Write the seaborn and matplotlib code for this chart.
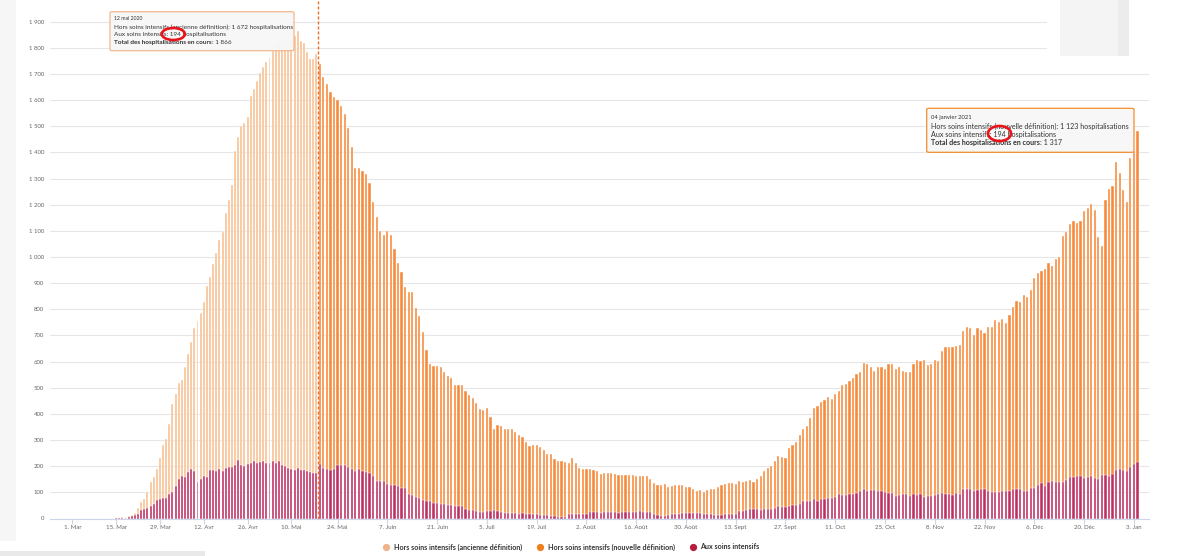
import numpy as np
import pandas as pd
import matplotlib
matplotlib.use("Agg")
import matplotlib.pyplot as plt
import seaborn as sns
from matplotlib.patches import Rectangle, FancyBboxPatch, Ellipse
from matplotlib.lines import Line2D

# ---------------- data ----------------
origine = "2020-03-01"

debut_ancienne = "2020-03-15"
total_ancienne = [
    2, 3, 4, 6, 9, 14, 22, 42, 62, 75, 102, 139, 159, 189, 231, 283, 303, 360, 437, 476,
    520, 530, 580, 629, 676, 729, 756, 787, 827, 888, 925, 972, 1014, 1067, 1096, 1167,
    1220, 1275, 1407, 1458, 1500, 1511, 1535, 1615, 1641, 1674, 1704, 1727, 1745, 1763,
    1787, 1814, 1822, 1823, 1822, 1825, 1829, 1844, 1866, 1825, 1817, 1784, 1759, 1759, 1778]
soins_int_ancienne = [
    1, 1, 2, 3, 5, 8, 14, 17, 31, 36, 41, 48, 54, 69, 75, 79, 79, 92, 103, 125,
    150, 161, 159, 178, 191, 182, 140, 152, 162, 158, 185, 185, 180, 191, 180, 195,
    197, 196, 203, 223, 206, 201, 209, 214, 220, 211, 215, 219, 214, 214,
    218, 211, 219, 206, 200, 194, 189, 185, 194, 186, 187, 183, 177, 173, 175]

debut_nouvelle = "2020-05-19"
total_nouvelle = [
    1737, 1688, 1663, 1630, 1612, 1602, 1577, 1546, 1494, 1419, 1341, 1341, 1328, 1316, 1284,
    1211, 1152, 1100, 1086, 1099, 1084, 1029, 979, 943, 886, 867, 867, 806, 775, 715,
    644, 592, 585, 584, 578, 560, 545, 536, 510, 510, 510, 488, 471, 461, 440,
    419, 416, 422, 389, 343, 356, 352, 341, 341, 341, 329, 320, 310, 291, 278,
    280, 280, 275, 261, 245, 245, 229, 220, 220, 215, 213, 233, 211, 194, 189,
    189, 188, 185, 183, 170, 174, 174, 175, 169, 168, 168, 165, 165, 165, 161,
    161, 161, 161, 150, 137, 128, 128, 131, 122, 125, 128, 128, 128, 122, 119,
    114, 104, 109, 100, 109, 111, 113, 122, 128, 133, 134, 134, 133, 143, 139,
    145, 146, 141, 150, 162, 183, 194, 202, 221, 240, 236, 230, 268, 282, 294,
    319, 343, 354, 384, 422, 430, 445, 453, 466, 457, 476, 489, 510, 514, 525,
    537, 551, 560, 593, 592, 578, 565, 578, 579, 570, 590, 589, 571, 578, 564,
    559, 560, 589, 606, 603, 606, 587, 590, 606, 601, 642, 654, 654, 654, 658,
    663, 717, 731, 729, 700, 727, 722, 711, 733, 733, 760, 753, 762, 746, 780,
    808, 832, 827, 855, 848, 873, 918, 940, 947, 953, 978, 966, 991, 1001, 1080,
    1096, 1128, 1137, 1131, 1137, 1177, 1186, 1201, 1179, 1075, 1042, 1220, 1262, 1272, 1362,
    1320, 1256, 1211, 1379, 1402, 1481]
soins_int_nouvelle = [
    208, 194, 190, 186, 190, 203, 203, 203, 196, 190, 183, 189, 180, 177, 175,
    161, 143, 143, 143, 131, 130, 130, 125, 118, 115, 94, 90, 82, 78, 71,
    68, 68, 61, 58, 55, 54, 50, 50, 48, 48, 49, 38, 34, 34, 29,
    26, 26, 27, 30, 32, 30, 24, 22, 22, 22, 21, 18, 21, 16, 16,
    18, 18, 13, 13, 13, 11, 11, 7, 7, 7, 18, 18, 18, 18, 18,
    18, 24, 24, 24, 20, 25, 25, 24, 24, 20, 25, 25, 25, 25, 26,
    30, 26, 25, 25, 17, 13, 11, 11, 13, 17, 18, 18, 20, 22, 22,
    20, 20, 20, 18, 18, 18, 13, 12, 12, 16, 18, 18, 18, 27, 30,
    32, 35, 35, 35, 32, 35, 35, 38, 40, 49, 45, 45, 49, 50, 52,
    54, 67, 68, 68, 73, 68, 76, 73, 78, 78, 82, 92, 90, 90, 95,
    92, 99, 105, 112, 105, 109, 109, 105, 105, 101, 99, 99, 87, 90, 92,
    94, 87, 94, 90, 92, 83, 85, 85, 90, 94, 96, 94, 94, 90, 99,
    94, 112, 112, 112, 106, 109, 114, 112, 106, 103, 103, 103, 105, 105, 106,
    112, 112, 112, 106, 106, 115, 118, 128, 134, 125, 139, 143, 138, 138, 141,
    147, 157, 157, 162, 162, 153, 157, 162, 153, 150, 168, 168, 164, 170, 185,
    188, 185, 183, 198, 208, 215]

tick_labels = ["1. Mar", "15. Mar", "29. Mar", "12. Avr", "26. Avr", "10. Mai", "24. Mai",
               "7. Juin", "21. Juin", "5. Juil", "19. Juil", "2. Août", "16. Août", "30. Août",
               "13. Sept", "27. Sept", "11. Oct", "25. Oct", "8. Nov", "22. Nov", "6. Déc",
               "20. Déc", "3. Jan"]
y_ticks = list(range(0, 2000, 100))
legend_labels = ["Hors soins intensifs (ancienne définition)",
                 "Hors soins intensifs (nouvelle définition)",
                 "Aux soins intensifs"]

# ---------------- style ----------------
C_OLD = "#f8bf92"
C_NEW = "#f5893a"
C_SI = "#bd3060"
LEG_COLORS = ["#f0b38a", "#f07f1b", "#b71c40"]

sns.set_theme(style="white")
plt.rcParams["font.family"] = ["Lato", "DejaVu Sans"]

W, H = 1200, 556
fig = plt.figure(figsize=(12, 5.56), dpi=100)
fig.patch.set_facecolor("white")

def fx(px):
    return px / W

def fy(py):
    return 1 - py / H

Y0, PX_PER_UNIT = 518.5, 0.26147
ax = fig.add_axes([fx(50), fy(Y0), (1149 - 50) / W, Y0 / H])

t0 = pd.Timestamp(origine)
jours_a = (pd.date_range(debut_ancienne, periods=len(total_ancienne)) - t0).days.values
jours_n = (pd.date_range(debut_nouvelle, periods=len(total_nouvelle)) - t0).days.values
df_a = pd.DataFrame({"jour": jours_a, "total": total_ancienne, "si": soins_int_ancienne})
df_n = pd.DataFrame({"jour": jours_n, "total": total_nouvelle, "si": soins_int_nouvelle})
df_si = pd.concat([df_a, df_n], ignore_index=True)

bar_kw = dict(native_scale=True, orient="x", saturation=1, width=0.62, errorbar=None,
              edgecolor="white", linewidth=0.3, ax=ax)
sns.barplot(data=df_a, x="jour", y="total", color=C_OLD, **bar_kw)
sns.barplot(data=df_n, x="jour", y="total", color=C_NEW, **bar_kw)
sns.barplot(data=df_si, x="jour", y="si", color=C_SI, **bar_kw)

# piecewise-linear day scale (the screenshot is a stitch of two zoom levels)
BREAK, SL, SR = 78.5, 3.13, 3.555

def fwd(d):
    d = np.asarray(d, dtype=float)
    return np.where(d < BREAK, SL * d, SL * BREAK + SR * (d - BREAK))

def inv(u):
    u = np.asarray(u, dtype=float)
    return np.where(u < SL * BREAK, u / SL, BREAK + (u - SL * BREAK) / SR)

ax.set_xscale("function", functions=(fwd, inv))
ax.set_xlim(float(inv(50 - 72.3)), float(inv(1149 - 72.3)))
ax.set_ylim(0, Y0 / PX_PER_UNIT)

tick_days = (pd.date_range(origine, periods=len(tick_labels), freq="14D") - t0).days.values
ax.set_xticks(tick_days)
ax.set_xticklabels(tick_labels)
ax.set_yticks(y_ticks)
ax.set_yticklabels([f"{v:,}".replace(",", " ") for v in y_ticks])
ax.minorticks_off()
ax.set_xlabel("")
ax.set_ylabel("")

ax.tick_params(axis="y", length=0, pad=4.3, labelsize=4.3, labelcolor="#666666")
ax.tick_params(axis="x", length=3.3, width=0.8, color="#ccd6eb", pad=1.2,
               labelsize=4.4, labelcolor="#666666", bottom=True)
for s in ["top", "right", "left"]:
    ax.spines[s].set_visible(False)
ax.spines["bottom"].set_color("#ccd6eb")
ax.spines["bottom"].set_linewidth(0.8)
ax.yaxis.grid(True, color="#e6e6e6", linewidth=0.8)
ax.xaxis.grid(False)
ax.set_axisbelow(True)

ax.axvline(BREAK, color="#e8702a", linestyle=(0, (2.2, 1.4)), linewidth=1.0, zorder=5)

# ---------------- screenshot frame bits ----------------
fig.patches.append(Rectangle((0, fy(541)), fx(16), 541 / H, transform=fig.transFigure,
                             facecolor="#f6f6f6", edgecolor="none"))
fig.patches.append(Rectangle((0, 0), fx(205), 5 / H, transform=fig.transFigure,
                             facecolor="#e9e9e9", edgecolor="none"))
fig.patches.append(Rectangle((fx(1047), fy(56)), fx(110), 56 / H, transform=fig.transFigure,
                             facecolor="white", edgecolor="none"))
fig.patches.append(Rectangle((fx(1060), fy(56)), fx(58), 56 / H, transform=fig.transFigure,
                             facecolor="#f4f4f4", edgecolor="none"))
fig.patches.append(Rectangle((fx(1118), fy(56)), fx(11), 56 / H, transform=fig.transFigure,
                             facecolor="#ececec", edgecolor="none"))

# ---------------- tooltips ----------------
def tooltip(x0, y0, x1, y1, edge, lines, total, tx, ys, fs_date, fs):
    box = FancyBboxPatch((fx(x0), fy(y1)), (x1 - x0) / W, (y1 - y0) / H,
                         boxstyle="round,pad=0,rounding_size=0.002",
                         transform=fig.transFigure, facecolor="#f7f7f7",
                         edgecolor=edge, linewidth=0.9, alpha=0.96, zorder=10)
    fig.patches.append(box)
    fig.text(fx(tx), fy(ys[0]), lines[0], fontsize=fs_date, color="#333333",
             va="center", ha="left", zorder=11)
    fig.text(fx(tx), fy(ys[1]), lines[1], fontsize=fs, color="#333333",
             va="center", ha="left", zorder=11)
    fig.text(fx(tx), fy(ys[2]), lines[2], fontsize=fs, color="#333333",
             va="center", ha="left", zorder=11)
    b = fig.text(fx(tx), fy(ys[3]), lines[3], fontsize=fs, color="#333333",
                 fontweight="bold", va="baseline", ha="left", zorder=11)
    fig.add_artist(matplotlib.text.Annotation(
        total, xy=(1, 0), xycoords=b, xytext=(fx(tx), fy(ys[3])),
        textcoords=fig.transFigure, va="baseline", ha="left", fontsize=fs,
        color="#333333", zorder=11))

    return b

def place_total(b, ann):
    pass

tt = []
tt.append(tooltip(110, 11.7, 294, 50.7, "#f2b58c",
                  ["12 mai 2020",
                   "Hors soins intensifs (ancienne définition): 1 672 hospitalisations",
                   "Aux soins intensifs: 194 hospitalisations",
                   "Total des hospitalisations en cours"], ": 1 866",
                  114, [19, 27, 34.5, 44.2], 3.7, 4.6))
tt.append(tooltip(926.7, 108.3, 1134, 152.3, "#f28a22",
                  ["04 janvier 2021",
                   "Hors soins intensifs (nouvelle définition): 1 123 hospitalisations",
                   "Aux soins intensifs: 194 hospitalisations",
                   "Total des hospitalisations en cours"], ": 1 317",
                  931, [117, 126, 134.5, 144.9], 4.2, 5.15))

# shift the ": total" text right after the bold part, on the same baseline
fig.canvas.draw()
renderer = fig.canvas.get_renderer()
for b in tt:
    bb = b.get_window_extent(renderer)
    for art in fig.artists:
        if isinstance(art, matplotlib.text.Annotation) and art.xycoords is b:
            x_fig = bb.x1 / fig.bbox.width
            art.xyann = (x_fig, b.get_position()[1])

for cx, cy, w, h in [(173.3, 34, 23, 12), (999.5, 133.5, 23, 15)]:
    fig.patches.append(Ellipse((fx(cx), fy(cy)), w / W, h / H, transform=fig.transFigure,
                               facecolor="none", edgecolor="#e8141c", linewidth=1.9, zorder=12))

# ---------------- legend ----------------
handles = [Line2D([], [], marker="o", linestyle="", color=c, markersize=4.2) for c in LEG_COLORS]
fig.legend(handles, legend_labels, loc="center", bbox_to_anchor=(fx(571), fy(547)), ncol=3,
           frameon=False, prop={"size": 5.15, "weight": "bold"}, labelcolor="#333333",
           handlelength=1.0, handletextpad=0.6, columnspacing=2.0)

fig.savefig("out.png", dpi=100, facecolor="white")
